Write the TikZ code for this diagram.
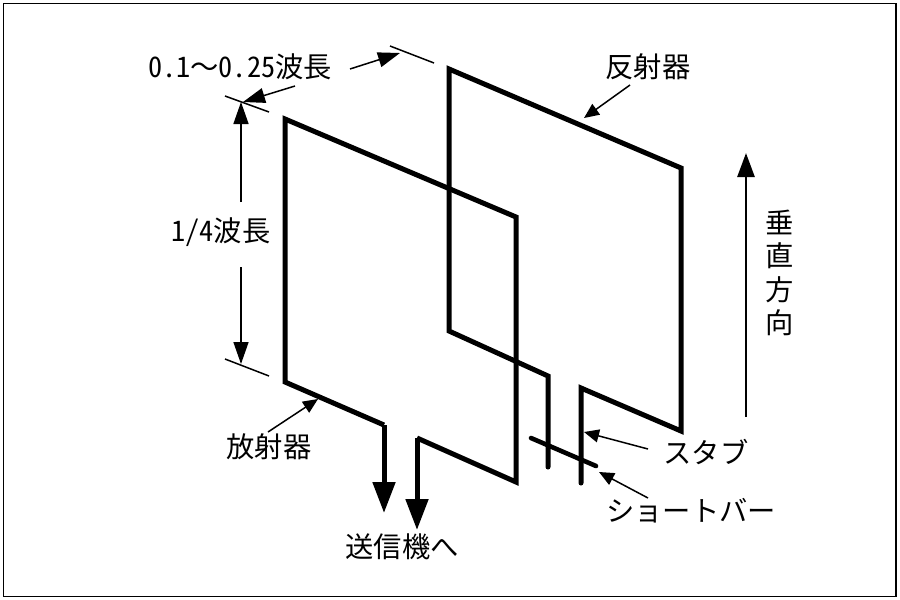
\documentclass[tikz,border=0pt]{standalone}
\usepackage{fontspec}
\usetikzlibrary{arrows.meta}
\newfontfamily\jpfont[RawFeature=+hwid]{Noto Sans CJK JP}
\newfontfamily\jpfull{Noto Sans CJK JP}
\tikzset{
  thick line/.style={line width=5pt,line cap=butt,line join=miter,draw=black},
  thin line/.style={line width=1.5pt,draw=black},
  small arrow/.style={thin line,-{Triangle[length=22pt,width=15pt]}},
  mid arrow/.style={thin line,-{Triangle[length=15pt,width=13pt]}},
  big arrow/.style={line width=5pt,draw=black,-{Triangle[length=31pt,width=22pt]}},
  label/.style={font=\jpfont\fontsize{28.3}{33.3}\selectfont,inner sep=0pt,text=black,align=center},
}
\begin{document}
\begin{tikzpicture}[x=1pt,y=-1pt]
\useasboundingbox (0,0) rectangle (900,600);
\fill[white] (0,0) rectangle (900,600);
\draw[line width=1.6pt] (3.5,3.5) rectangle (896,596.5);
% reflector
\coordinate (rA) at (449,331); \coordinate (rB) at (449,69); \coordinate (rC) at (681,168);
\coordinate (rD) at (681,431); \coordinate (rE) at (581,388); \coordinate (rF) at (581,483);
\coordinate (rG) at (548,376); \coordinate (rH) at (548,467);
\draw[thick line,line cap=round] (rF) -- (rE) -- (rD) -- (rC) -- (rB) -- (rA) -- (rG) -- (rH);
% radiator
\coordinate (dA) at (285,119); \coordinate (dB) at (516,217); \coordinate (dC) at (516,482);
\coordinate (dD) at (417,438); \coordinate (dE) at (417,530); \coordinate (dF) at (285,382);
\coordinate (dG) at (384,425); \coordinate (dH) at (384,513);
\draw[big arrow] (dD) -- (dE);
\draw[big arrow] (dG) -- (dH);
\draw[thick line] (dD) -- (dC) -- (dB) -- (dA) -- (dF) -- (dG);
% short bar
\coordinate (sA) at (531,438); \coordinate (sB) at (596,466);
\draw[line width=4.6pt,line cap=round] (sA) -- (sB);
% ticks
\coordinate (t1a) at (390,46); \coordinate (t1b) at (434,63);
\coordinate (t2a) at (225,96); \coordinate (t2b) at (269,112);
\coordinate (t3a) at (225,359); \coordinate (t3b) at (269,376);
\draw[thin line] (t1a) -- (t1b);
\draw[thin line] (t2a) -- (t2b);
\draw[thin line] (t3a) -- (t3b);
% labels
\node[label] (wave) at (240,67) {0.1{\jpfull ～}0.25波長};
\node[label] (quarter) at (221,232) {1/4波長};
\node[label] (refl) at (648,67) {反射器};
\node[label] (rad) at (269,447) {放射器};
\node[label] (stub) at (706,452) {スタブ};
\node[label] (bar) at (691,511) {ショートバー};
\node[label] (tx) at (402,547) {送信機へ};
\node[label] (vert) at (780,273) {垂\\直\\方\\向};
% dimension arrows
\coordinate (a1s) at (350,69); \coordinate (a1t) at (400,53);
\coordinate (a2s) at (295,86); \coordinate (a2t) at (243,102);
\coordinate (a3s) at (241,202); \coordinate (a3t) at (241,102);
\coordinate (a4s) at (241,267); \coordinate (a4t) at (241,364);
\draw[small arrow] (a1s) -- (a1t);
\draw[small arrow] (a2s) -- (a2t);
\draw[small arrow] (a3s) -- (a3t);
\draw[small arrow] (a4s) -- (a4t);
% leader arrows
\coordinate (b1s) at (630,85); \coordinate (b1t) at (584,118);
\coordinate (b2s) at (268,432); \coordinate (b2t) at (318,399);
\coordinate (b3s) at (648,449); \coordinate (b3t) at (584,432);
\coordinate (b4s) at (648,498); \coordinate (b4t) at (599,472);
\draw[mid arrow] (b1s) -- (b1t);
\draw[mid arrow] (b2s) -- (b2t);
\draw[mid arrow] (b3s) -- (b3t);
\draw[mid arrow] (b4s) -- (b4t);
% vertical direction
\coordinate (vs) at (746,417); \coordinate (vt) at (746,153);
\draw[line width=2.7pt,draw=black,-{Triangle[length=24pt,width=17pt]}] (vs) -- (vt);
\end{tikzpicture}
\end{document}
